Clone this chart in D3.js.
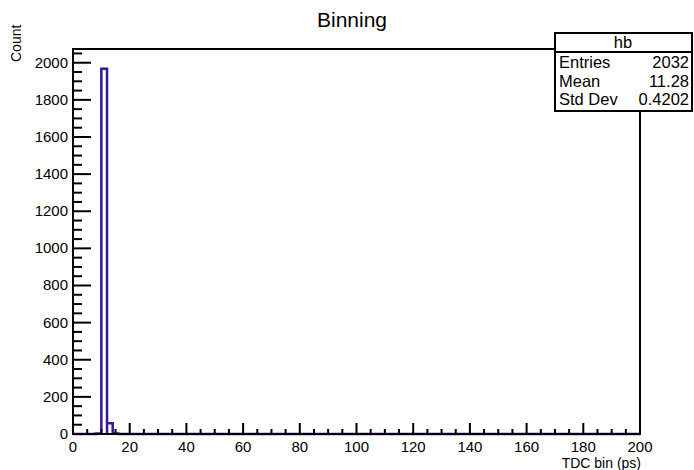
<!DOCTYPE html>
<html>
<head>
<meta charset="utf-8">
<script src="https://cdn.jsdelivr.net/npm/d3@7"></script>
<style>
  body { margin: 0; background: #fff; }
  text { font-family: "Liberation Sans", Arial, sans-serif; fill: #000; }
</style>
</head>
<body>
<div id="plot"></div>
<script>
// histogram "hb": 100 bins from 0 to 200, only a few filled
var binLow = [8, 10, 12, 14];
var binCount = [3, 1968, 58, 3];
var binWidth = 2;
var xRange = [0, 200];
var yMax = 2074;
var xTicks = [0, 20, 40, 60, 80, 100, 120, 140, 160, 180, 200];
var yTicks = [0, 200, 400, 600, 800, 1000, 1200, 1400, 1600, 1800, 2000];
var statLabels = ["Entries", "Mean", "Std Dev"];
var statValues = ["2032", "11.28", "0.4202"];

var svgWidth = 694, svgHeight = 470;
var margin = { top: 49, right: 54, bottom: 36, left: 73 };
var width = svgWidth - margin.left - margin.right;
var height = svgHeight - margin.top - margin.bottom;

var svg = d3.select("#plot").append("svg")
    .attr("width", svgWidth)
    .attr("height", svgHeight);

var chartGroup = svg.append("g")
    .attr("transform", `translate(${margin.left}, ${margin.top})`);

var xScale = d3.scaleLinear().domain(xRange).range([0, width]);
var yScale = d3.scaleLinear().domain([0, yMax]).range([height, 0]);

// outline of the histogram (step line)
var pts = [[xRange[0], 0]];
binLow.forEach(function (lo, i) {
    pts.push([lo, 0], [lo, binCount[i]], [lo + binWidth, binCount[i]], [lo + binWidth, 0]);
});
pts.push([xRange[1], 0]);

chartGroup.append("path")
    .attr("d", d3.line().x(d => xScale(d[0])).y(d => yScale(d[1]))(pts))
    .attr("fill", "none")
    .attr("stroke", "#34189c")
    .attr("stroke-width", 2.5);

// x axis ticks
var xMinor = d3.range(0, 201, 5);
chartGroup.selectAll(".xt").data(xMinor).enter().append("line")
    .attr("x1", d => xScale(d)).attr("x2", d => xScale(d))
    .attr("y1", height)
    .attr("y2", d => height - (d % 20 === 0 ? 11 : 5))
    .attr("stroke", "#000").attr("stroke-width", 2);

chartGroup.selectAll(".xl").data(xTicks).enter().append("text")
    .attr("x", d => xScale(d)).attr("y", height + 18)
    .attr("text-anchor", "middle")
    .style("font-size", "15px")
    .text(d => d);

// y axis ticks
var yMinor = d3.range(0, yMax, 50);
chartGroup.selectAll(".yt").data(yMinor).enter().append("line")
    .attr("x1", 0)
    .attr("x2", d => d % 200 === 0 ? 18 : 9)
    .attr("y1", d => yScale(d)).attr("y2", d => yScale(d))
    .attr("stroke", "#000").attr("stroke-width", 2);

chartGroup.selectAll(".yl").data(yTicks).enter().append("text")
    .attr("x", -5).attr("y", d => yScale(d) + 5)
    .attr("text-anchor", "end")
    .style("font-size", "15px")
    .text(d => d);

// frame
chartGroup.append("rect")
    .attr("width", width).attr("height", height)
    .attr("fill", "none").attr("stroke", "#000").attr("stroke-width", 2);

// titles
svg.append("text")
    .attr("x", 352).attr("y", 27)
    .attr("text-anchor", "middle")
    .style("font-size", "21px")
    .text("Binning");

svg.append("text")
    .attr("x", margin.left + width + 1).attr("y", 468)
    .attr("text-anchor", "end")
    .style("font-size", "14px")
    .text("TDC bin (ps)");

svg.append("text")
    .attr("transform", "translate(21, 62) rotate(-90)")
    .attr("text-anchor", "start")
    .style("font-size", "14px")
    .text("Count");

// stats box
var box = svg.append("g").attr("transform", "translate(555, 33)");
box.append("rect")
    .attr("width", 137).attr("height", 78)
    .attr("fill", "#fff").attr("stroke", "#000").attr("stroke-width", 2);
box.append("line")
    .attr("x1", 0).attr("x2", 137).attr("y1", 19).attr("y2", 19)
    .attr("stroke", "#000").attr("stroke-width", 2);
box.append("text")
    .attr("x", 68).attr("y", 15)
    .attr("text-anchor", "middle")
    .style("font-size", "16.5px")
    .text("hb");
box.selectAll(".sl").data(statLabels).enter().append("text")
    .attr("x", 4).attr("y", (d, i) => 35 + i * 18.5)
    .style("font-size", "16.5px")
    .text(d => d);
box.selectAll(".sv").data(statValues).enter().append("text")
    .attr("x", 134).attr("y", (d, i) => 35 + i * 18.5)
    .attr("text-anchor", "end")
    .style("font-size", "16.5px")
    .text(d => d);
</script>
</body>
</html>
